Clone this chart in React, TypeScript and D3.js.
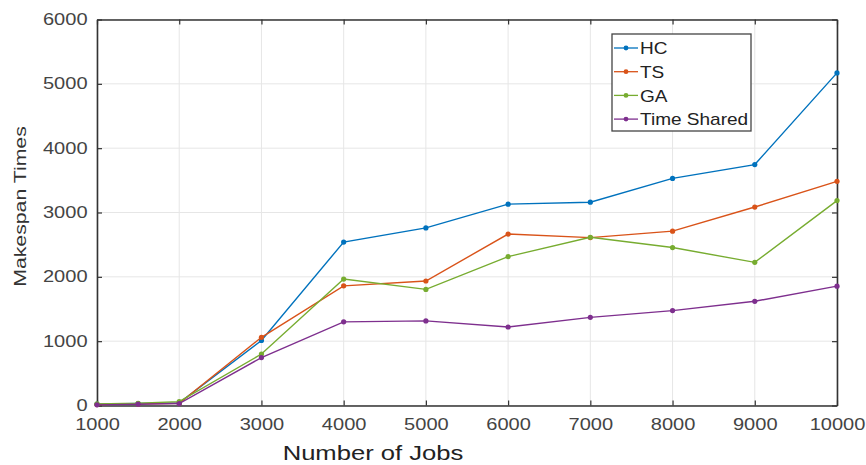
import React, { useEffect, useRef } from 'react';
import * as d3 from 'd3';

const jobs = [1000, 1500, 2000, 3000, 4000, 5000, 6000, 7000, 8000, 9000, 10000];
const hc = [20, 30, 40, 1010, 2540, 2760, 3130, 3160, 3530, 3745, 5170];
const ts = [15, 25, 35, 1060, 1860, 1935, 2665, 2610, 2710, 3085, 3485];
const ga = [25, 35, 60, 800, 1965, 1805, 2315, 2615, 2455, 2225, 3185];
const timeShared = [10, 20, 30, 745, 1300, 1315, 1220, 1370, 1475, 1620, 1855];

const seriesNames = ['HC', 'TS', 'GA', 'Time Shared'];
const seriesColors = ['#0072BD', '#D95319', '#77AC30', '#7E2F8E'];
const xTicks = [1000, 2000, 3000, 4000, 5000, 6000, 7000, 8000, 9000, 10000];
const yTicks = [0, 1000, 2000, 3000, 4000, 5000, 6000];

const App = () => {
    const ref = useRef(null);

    useEffect(() => {
        const svg = d3.select(ref.current);
        svg.selectAll('*').remove();

        const left = 97, right = 837, top = 19.5, bottom = 405.5;
        const font = 'Arial, "Liberation Sans", sans-serif';

        const x = d3.scaleLinear().domain([1000, 10000]).range([left, right]);
        const y = d3.scaleLinear().domain([0, 6000]).range([bottom, top]);

        svg.append('rect').attr('width', 866).attr('height', 465).attr('fill', '#fff');

        // grid
        const grid = svg.append('g').attr('stroke', '#e6e6e6').attr('stroke-width', 1);
        xTicks.forEach(t => {
            grid.append('line').attr('x1', x(t)).attr('x2', x(t)).attr('y1', top).attr('y2', bottom);
        });
        yTicks.forEach(t => {
            grid.append('line').attr('x1', left).attr('x2', right).attr('y1', y(t)).attr('y2', y(t));
        });

        // axes (inward ticks, box)
        const fmt = d3.format('d');
        const xAxis = d3.axisBottom(x).tickValues(xTicks).tickFormat(fmt).tickSizeInner(-5).tickSizeOuter(0).tickPadding(11);
        const gx = svg.append('g').attr('transform', `translate(0,${bottom})`).call(xAxis);
        const yAxis = d3.axisLeft(y).tickValues(yTicks).tickFormat(fmt).tickSizeInner(-5).tickSizeOuter(0).tickPadding(8);
        const gy = svg.append('g').attr('transform', `translate(${left},0)`).call(yAxis);
        const gxTop = svg.append('g').attr('transform', `translate(0,${top})`)
            .call(d3.axisTop(x).tickValues(xTicks).tickSizeInner(-5).tickSizeOuter(0).tickFormat(() => ''));
        const gyRight = svg.append('g').attr('transform', `translate(${right},0)`)
            .call(d3.axisRight(y).tickValues(yTicks).tickSizeInner(-5).tickSizeOuter(0).tickFormat(() => ''));

        [gx, gy, gxTop, gyRight].forEach(g => {
            g.select('.domain').attr('stroke', '#333').attr('stroke-width', 1.6);
            g.selectAll('.tick line').attr('stroke', '#333').attr('stroke-width', 1.2);
            g.selectAll('.tick text').attr('fill', '#444').style('font-family', font).style('font-size', '17px')
                .attr('transform', 'scale(1.18,1)');
        });
        gx.selectAll('.tick text').attr('dy', '0.78em');
        gy.selectAll('.tick text').attr('dy', '0.3em');

        // lines
        const all = [hc, ts, ga, timeShared];
        const line = d3.line().x((d, i) => x(jobs[i])).y(d => y(d));
        all.forEach((vals, k) => {
            svg.append('path').datum(vals)
                .attr('fill', 'none')
                .attr('stroke', seriesColors[k])
                .attr('stroke-width', 1.4)
                .attr('d', line);
            svg.append('g').selectAll('circle').data(vals).enter().append('circle')
                .attr('cx', (d, i) => x(jobs[i]))
                .attr('cy', d => y(d))
                .attr('r', 2.6)
                .attr('fill', seriesColors[k]);
        });

        // legend
        const lg = svg.append('g').attr('transform', 'translate(612,34)');
        lg.append('rect').attr('width', 139).attr('height', 97)
            .attr('fill', '#fff').attr('stroke', '#444').attr('stroke-width', 1.3);
        seriesNames.forEach((name, k) => {
            const yy = 14 + k * 23.7;
            lg.append('line').attr('x1', 2).attr('x2', 26).attr('y1', yy).attr('y2', yy)
                .attr('stroke', seriesColors[k]).attr('stroke-width', 1.3);
            lg.append('circle').attr('cx', 14).attr('cy', yy).attr('r', 2.4).attr('fill', seriesColors[k]);
            lg.append('text').attr('transform', `translate(28,${yy}) scale(1.12,1)`).attr('dy', '0.36em')
                .attr('fill', '#222').style('font-family', font).style('font-size', '17px').text(name);
        });

        // axis labels
        svg.append('text')
            .attr('transform', `translate(26,${(top + bottom) / 2 - 6}) rotate(-90) scale(1.25,1)`)
            .attr('text-anchor', 'middle')
            .attr('fill', '#333').style('font-family', font).style('font-size', '17px')
            .text('Makespan Times');
        svg.append('text')
            .attr('transform', 'translate(373,460) scale(1.22,1)')
            .attr('text-anchor', 'middle')
            .attr('fill', '#222').style('font-family', font).style('font-size', '21px')
            .text('Number of Jobs');
    }, []);

    return <svg ref={ref} width={866} height={465} style={{ position: 'absolute', left: 0, top: 0 }} />;
};

export default App;
